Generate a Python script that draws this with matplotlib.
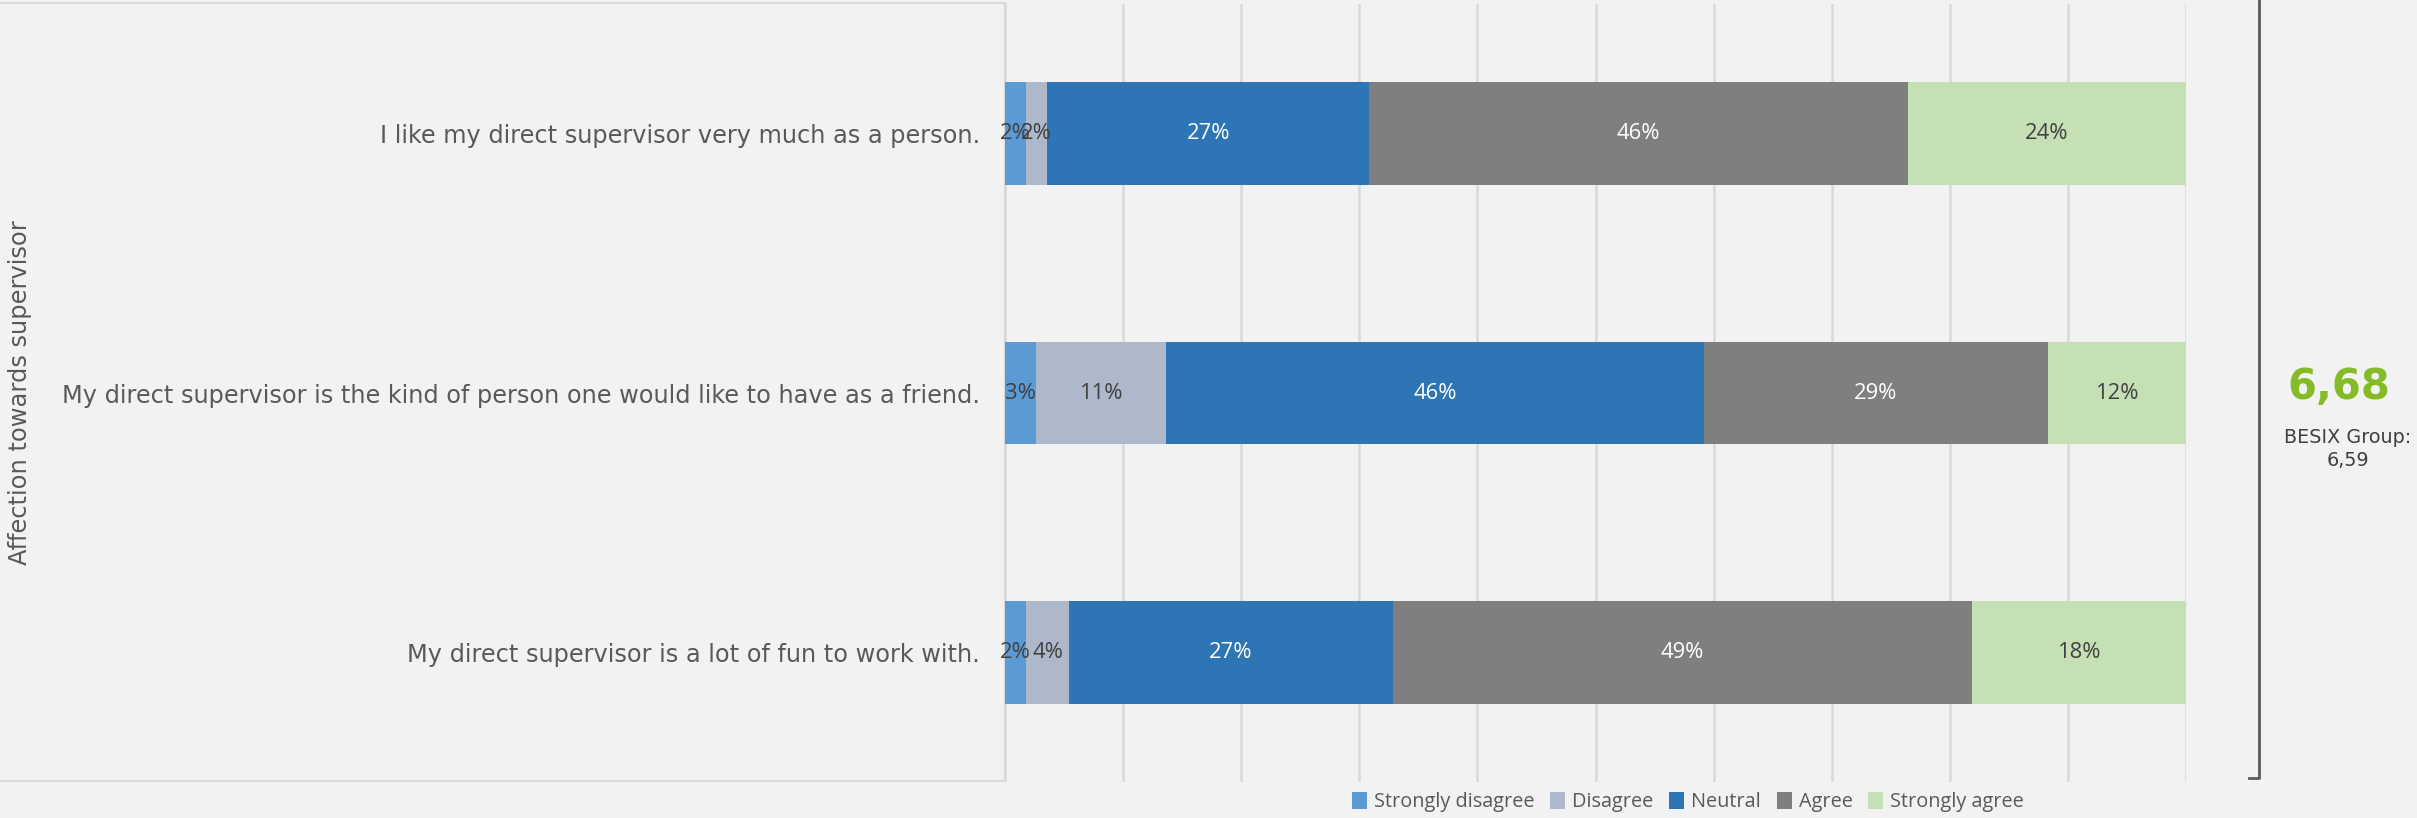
import matplotlib
matplotlib.use("Agg")
import matplotlib.pyplot as plt
from matplotlib.patches import Rectangle, Patch
from matplotlib.lines import Line2D

# ---- data -------------------------------------------------------------
statements = [
    "I like my direct supervisor very much as a person.",
    "My direct supervisor is the kind of person one would like to have as a friend.",
    "My direct supervisor is a lot of fun to work with.",
]
answer_levels = ["Strongly disagree", "Disagree", "Neutral", "Agree", "Strongly agree"]
strongly_disagree = [1.78, 2.65, 1.78]
disagree = [1.78, 10.95, 3.64]
neutral = [27.3, 45.6, 27.4]
agree = [45.6, 29.1, 49.1]
strongly_agree = [23.56, 11.7, 18.1]
dimension_title = "Affection towards supervisor"
dimension_score = 6.68
group_name = "BESIX Group"
group_score = 6.59

# ---- styling ----------------------------------------------------------
BG = "#F2F2F2"
GRID = "#D9D9D9"
TEXT = "#595959"
DARK = "#404040"
colors = ["#5B9BD5", "#ADB9CA", "#2E75B6", "#7F7F7F", "#C5E0B4"]
label_colors = [DARK, DARK, "white", "white", DARK]

W, H, DPI = 2417, 818, 100
fig = plt.figure(figsize=(W / DPI, H / DPI), dpi=DPI, facecolor=BG)

# box framing the statement labels
fig.add_artist(Rectangle((-0.01, 1 - 781 / H), 0.01 + 1005 / W, (781 - 3) / H,
                         transform=fig.transFigure, facecolor="none",
                         edgecolor=GRID, linewidth=1.6, zorder=0))

ax = fig.add_axes([1005 / W, 1 - 782 / H, 1181 / W, 778 / H])
ax.set_facecolor("none")
for s in ax.spines.values():
    s.set_visible(False)

ax.set_xlim(0, 100)
ax.set_ylim(2.5, -0.5)
ax.set_xticks(range(0, 101, 10))
ax.tick_params(axis="x", length=0, labelbottom=False)
ax.grid(axis="x", color=GRID, linewidth=1.8, zorder=0)
ax.set_axisbelow(True)

ypos = list(range(len(statements)))
ax.set_yticks(ypos, statements)
ax.tick_params(axis="y", length=0, pad=18, labelsize=17.3, labelcolor=TEXT)
for t in ax.get_yticklabels():
    t.set_fontfamily("DejaVu Sans")

series = [strongly_disagree, disagree, neutral, agree, strongly_agree]
left = [0.0] * len(statements)
for name, vals, col, lcol in zip(answer_levels, series, colors, label_colors):
    bars = ax.barh(ypos, vals, left=left, height=0.397, color=col,
                   linewidth=0, label=name, zorder=2)
    ax.bar_label(bars, labels=[f"{v:.0f}%" for v in vals], label_type="center",
                 color=lcol, fontsize=15.8, fontfamily="Open Sans", zorder=3)
    left = [l + v for l, v in zip(left, vals)]

fig.text(20 / W, 1 - 393 / H, dimension_title, rotation=90, ha="center", va="center",
         fontsize=17.4, color=TEXT, fontfamily="DejaVu Sans")

# legend under the bars
handles = [Patch(facecolor=c, edgecolor="none") for c in colors]
fig.legend(handles, answer_levels, loc="center", bbox_to_anchor=(1688 / W, 1 - 802 / H),
           ncol=5, frameon=False, handlelength=0.75, handleheight=0.95,
           handletextpad=0.35, columnspacing=0.8,
           prop={"family": "Open Sans", "size": 14.3}, labelcolor=TEXT)

# separator bracket and score panel
xl = 2259 / W
fig.add_artist(Line2D([xl, xl, 2249 / W], [1.0, 1 - 778 / H, 1 - 778 / H],
                      transform=fig.transFigure, color="#595959", linewidth=2))

fig.text(2339 / W, 1 - 387 / H, f"{dimension_score:.2f}".replace(".", ","),
         ha="center", va="center", fontsize=30, fontweight="bold",
         color="#84BB27", fontfamily="DejaVu Sans")
fig.text(2348 / W, 1 - 449 / H,
         f"{group_name}:\n{group_score:.2f}".replace(".", ","),
         ha="center", va="center", multialignment="center", fontsize=13.8,
         color=DARK, fontfamily="DejaVu Sans", linespacing=1.25)

fig.savefig("out.png", dpi=DPI, facecolor=BG)
